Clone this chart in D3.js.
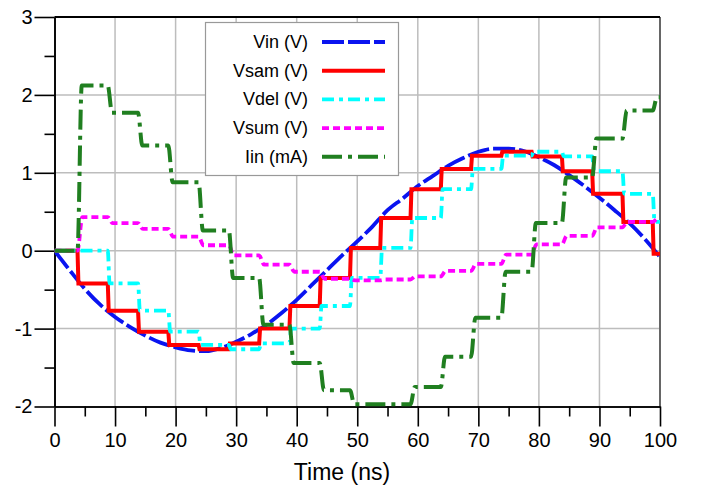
<!DOCTYPE html>
<html>
<head>
<meta charset="utf-8">
<script src="https://cdn.jsdelivr.net/npm/d3@7/dist/d3.min.js"></script>
<style>
body{margin:0;background:#fff}
svg{display:block;font-family:"Liberation Sans",Arial,Helvetica,sans-serif}
</style>
</head>
<body>
<svg id="chart" width="704" height="487"></svg>
<script>
// Vin
var vinT = [0,2.5,5,7.5,10,12.5,15,17.5,20,22.5,25,27.5,30,32.5,35,37.5,40,42.5,45,47.5,50,
            52.5,55,57.5,60,62.5,65,67.5,70,72.5,75,77.5,80,82.5,85,87.5,90,92.5,95,97.5,100];
var vinV = [0,-0.25,-0.49,-0.69,-0.85,-0.98,-1.09,-1.18,-1.24,-1.28,-1.29,-1.25,-1.17,-1.07,-0.95,-0.80,-0.63,-0.44,-0.25,-0.06,0.12,
            0.31,0.52,0.67,0.83,0.96,1.09,1.19,1.27,1.31,1.31,1.28,1.20,1.10,0.97,0.83,0.68,0.52,0.35,0.15,-0.08];

// step series: level held from each switch time to the next
var stepT = [0,3.8,8.8,13.8,18.8,23.8,28.8,33.8,38.8,43.8,48.8,53.8,58.8,63.8,68.8,73.8,78.8,83.8,88.8,93.8,98.8];
var vsam = [0,-0.42,-0.77,-1.04,-1.21,-1.265,-1.19,-1.00,-0.71,-0.35,0.035,0.42,0.79,1.05,1.22,1.27,1.21,1.02,0.73,0.37,-0.04];
var vdel = [0,0,-0.42,-0.77,-1.04,-1.21,-1.265,-1.19,-1.00,-0.71,-0.35,0.035,0.42,0.79,1.05,1.22,1.27,1.21,1.02,0.73,0.37];
var vsum = [0,0.43,0.355,0.28,0.18,0.07,-0.06,-0.18,-0.27,-0.36,-0.38,-0.37,-0.33,-0.26,-0.17,-0.05,0.08,0.19,0.30,0.37,0.41];
var iin  = [0,2.12,1.77,1.35,0.88,0.26,-0.35,-0.95,-1.44,-1.79,-1.97,-1.97,-1.75,-1.36,-0.86,-0.27,0.355,0.94,1.44,1.80,1.97];

var names = ["Vin (V)","Vsam (V)","Vdel (V)","Vsum (V)","Iin (mA)"];
var xTicks = [0,10,20,30,40,50,60,70,80,90,100];
var yTicks = [-2,-1,0,1,2,3];

var svg = d3.select("#chart");
var x = d3.scaleLinear().domain([0,100]).range([54.5,660]);
var y = d3.scaleLinear().domain([-2,3]).range([406.5,17]);

// grid
var grid = svg.append("g").attr("stroke","#bdbdbd").attr("stroke-width",1.5);
grid.selectAll(".gx").data(xTicks.slice(1,-1)).enter().append("line")
  .attr("x1",d=>x(d)).attr("x2",d=>x(d)).attr("y1",y(3)).attr("y2",y(-2));
grid.selectAll(".gy").data(yTicks.slice(1,-1)).enter().append("line")
  .attr("y1",d=>y(d)).attr("y2",d=>y(d)).attr("x1",x(0)).attr("x2",x(100));

// frame right / top
svg.append("line").attr("x1",x(100)).attr("x2",x(100)).attr("y1",y(3)).attr("y2",y(-2))
  .attr("stroke","#666").attr("stroke-width",2);
svg.append("line").attr("x1",x(0)).attr("x2",x(100)).attr("y1",y(3)).attr("y2",y(3))
  .attr("stroke","#000").attr("stroke-width",2);

// axes
var xAxis = svg.append("g").attr("transform","translate(0,"+y(-2)+")")
  .call(d3.axisBottom(x).tickValues(xTicks).tickSize(20).tickSizeOuter(0).tickPadding(6).tickFormat(d=>String(d)));
svg.append("g").attr("transform","translate(0,"+y(-2)+")")
  .call(d3.axisBottom(x).tickValues(d3.range(5,100,10)).tickSize(10).tickSizeOuter(0).tickFormat(""));
var yAxis = svg.append("g").attr("transform","translate("+x(0)+",0)")
  .call(d3.axisLeft(y).tickValues(yTicks).tickSize(20).tickSizeOuter(0).tickPadding(2).tickFormat(d=>String(d)));
svg.append("g").attr("transform","translate("+x(0)+",0)")
  .call(d3.axisLeft(y).tickValues(d3.range(-1.5,3,1)).tickSize(10).tickSizeOuter(0).tickFormat(""));
svg.selectAll(".domain, .tick line").attr("stroke","#000").attr("stroke-width",1.6);
svg.selectAll(".tick text").attr("fill","#000").style("font-size","20px");

svg.append("text").attr("x",342).attr("y",480).attr("text-anchor","middle")
  .style("font-size","23px").text("Time (ns)");

// lines
svg.append("clipPath").attr("id","clip").append("rect")
  .attr("x",x(0)).attr("y",y(3)-2).attr("width",x(100)-x(0)).attr("height",y(-2)-y(3)+4);
var plot = svg.append("g").attr("clip-path","url(#clip)");

function stepPts(vals, ramp){
  var pts = [[stepT[0], vals[0]]];
  for (var i=1;i<stepT.length;i++){
    pts.push([stepT[i], vals[i-1]]);
    pts.push([stepT[i]+ramp, vals[i]]);
  }
  pts.push([100, vals[vals.length-1]]);
  return pts;
}

var series = [
  {pts: vinT.map((t,i)=>[t,vinV[i]]), color:"#0a14f0", dash:"22,4", w:3.8, curve:d3.curveMonotoneX},
  {pts: stepPts(vsam,0.15), color:"#ff0000", dash:null, w:4, curve:d3.curveLinear},
  {pts: stepPts(vdel,0.3), color:"#00ffff", dash:"12,5,4,5", w:3.8, curve:d3.curveMonotoneX},
  {pts: stepPts(vsum,0.8), color:"#ff00ff", dash:"7,4", w:3.8, curve:d3.curveMonotoneX},
  {pts: stepPts(iin,0.7), color:"#207f20", dash:"20,6,4,6", w:4, curve:d3.curveMonotoneX}
];

series.forEach(function(s){
  plot.append("path").datum(s.pts)
    .attr("fill","none").attr("stroke",s.color).attr("stroke-width",s.w)
    .attr("stroke-dasharray",s.dash)
    .attr("d",d3.line().x(d=>x(d[0])).y(d=>y(d[1])).curve(s.curve));
});

// legend
var lg = svg.append("g");
lg.append("rect").attr("x",205.5).attr("y",22.5).attr("width",193).attr("height",153)
  .attr("fill","#fff").attr("stroke","#999").attr("stroke-width",1.2);
names.forEach(function(n,i){
  var cy = 42 + i*28.7;
  lg.append("text").attr("x",308).attr("y",cy+6).attr("text-anchor","end")
    .style("font-size","18px").text(n);
  lg.append("line").attr("x1",322).attr("x2",385).attr("y1",cy).attr("y2",cy)
    .attr("stroke",series[i].color).attr("stroke-width",series[i].w)
    .attr("stroke-dasharray",series[i].dash);
});
</script>
</body>
</html>
